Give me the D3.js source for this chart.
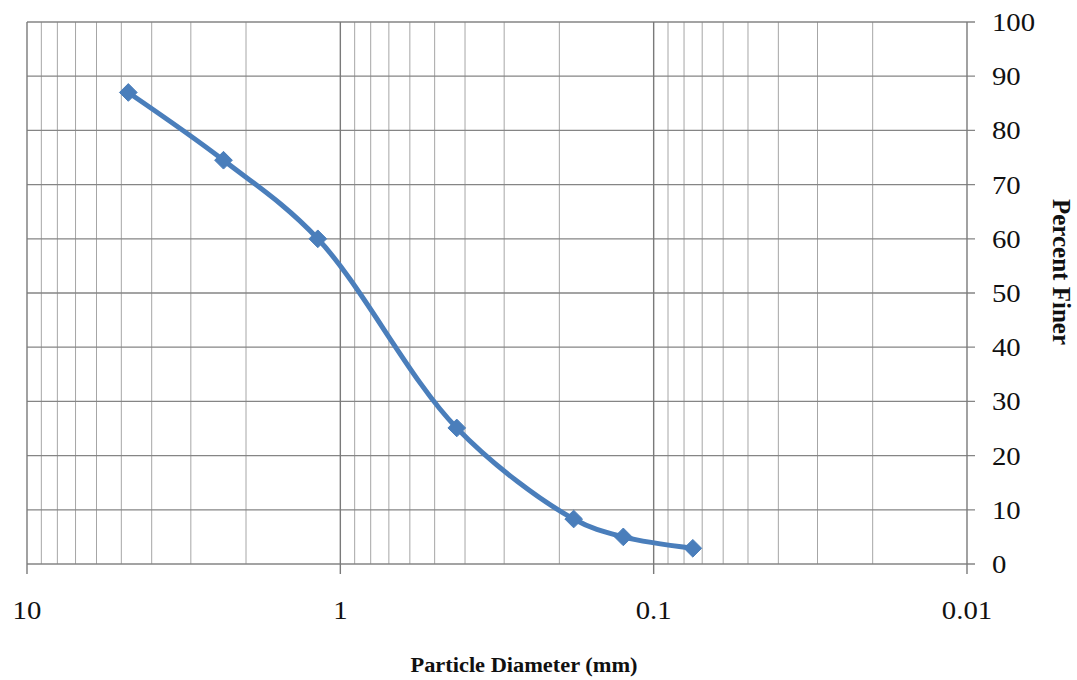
<!DOCTYPE html>
<html>
<head>
<meta charset="utf-8">
<script src="https://cdn.jsdelivr.net/npm/d3@7"></script>
<style>
  html, body { margin: 0; padding: 0; background: #fff; }
  svg { display: block; }
  text { font-family: "Liberation Serif", "Times New Roman", serif; fill: #111; }
</style>
</head>
<body>
<svg id="chart" width="1077" height="680"></svg>
<script>
// Data
const diameters = [4.75, 2.36, 1.18, 0.425, 0.18, 0.125, 0.075];
const percentFiner = [87, 74.5, 60, 25.1, 8.3, 5.0, 2.9];
const xTickValues = [10, 1, 0.1, 0.01];
const xTickLabels = ["10", "1", "0.1", "0.01"];
const yTickValues = [0, 10, 20, 30, 40, 50, 60, 70, 80, 90, 100];
const xTitle = "Particle Diameter (mm)";
const yTitle = "Percent Finer";

const svg = d3.select("#chart");
const mLeft = 27, mRight = 967, mTop = 22, mBottom = 564;
const sx = 1.15; // horizontal stretch of the original image text

const x = d3.scaleLog().domain([10, 0.01]).range([mLeft, mRight]);
const y = d3.scaleLinear().domain([0, 100]).range([mBottom, mTop]);

// minor vertical grid
const minor = [];
for (let e = -2; e < 1; e++) {
  for (let m = 2; m <= 9; m++) minor.push(m * Math.pow(10, e));
}
svg.append("g").selectAll("line").data(minor).join("line")
  .attr("x1", d => x(d)).attr("x2", d => x(d))
  .attr("y1", mTop).attr("y2", mBottom)
  .attr("stroke", "#a6a6a6").attr("stroke-width", 1);

// horizontal grid + right ticks
svg.append("g").selectAll("line").data(yTickValues).join("line")
  .attr("x1", mLeft).attr("x2", mRight + 8)
  .attr("y1", d => y(d)).attr("y2", d => y(d))
  .attr("stroke", "#858585").attr("stroke-width", 1.3);

// major vertical grid + bottom ticks
svg.append("g").selectAll("line").data(xTickValues).join("line")
  .attr("x1", d => x(d)).attr("x2", d => x(d))
  .attr("y1", mTop).attr("y2", mBottom + 10)
  .attr("stroke", "#7a7a7a").attr("stroke-width", 1.4);

// y tick labels (right)
svg.append("g").selectAll("text").data(yTickValues).join("text")
  .attr("x", 992).attr("y", d => y(d))
  .attr("dy", "0.36em")
  .attr("font-size", 25)
  .attr("transform", `translate(992,0) scale(${sx},1) translate(-992,0)`)
  .text(d => d);

// x tick labels
svg.append("g").selectAll("text").data(xTickValues).join("text")
  .attr("x", d => x(d)).attr("y", 619)
  .attr("text-anchor", "middle")
  .attr("font-size", 25)
  .attr("transform", d => `translate(${x(d)},0) scale(${sx},1) translate(${-x(d)},0)`)
  .text((d, i) => xTickLabels[i]);

// axis titles
svg.append("text")
  .attr("x", 524).attr("y", 672)
  .attr("text-anchor", "middle")
  .attr("font-size", 20).attr("font-weight", "bold")
  .attr("transform", `translate(524,0) scale(1.12,1) translate(-524,0)`)
  .text(xTitle);

svg.append("text")
  .attr("transform", "translate(1053,272) rotate(90)")
  .attr("text-anchor", "middle")
  .attr("font-size", 25).attr("font-weight", "bold")
  .text(yTitle);

// series
const pts = diameters.map((d, i) => [x(d), y(percentFiner[i])]);
const line = d3.line().curve(d3.curveCatmullRom.alpha(0.5));
svg.append("path")
  .attr("d", line(pts))
  .attr("fill", "none")
  .attr("stroke", "#4a7ebb")
  .attr("stroke-width", 5)
  .attr("stroke-linejoin", "round");

svg.append("g").selectAll("path").data(pts).join("path")
  .attr("transform", d => `translate(${d[0]},${d[1]})`)
  .attr("d", d3.symbol().type(d3.symbolDiamond2).size(200)())
  .attr("fill", "#4a7ebb")
  .attr("stroke", "#4a7ebb")
  .attr("stroke-width", 1);
</script>
</body>
</html>
